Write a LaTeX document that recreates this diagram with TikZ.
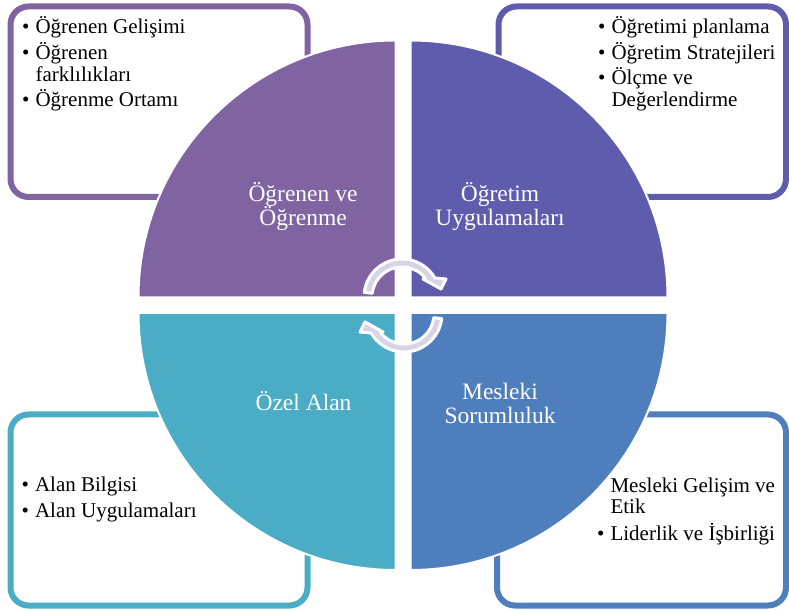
\documentclass[tikz,border=0pt]{standalone}
\usepackage{fontspec}
\setmainfont{Liberation Serif}
\definecolor{learnpurple}{HTML}{8064A2}
\definecolor{teachviolet}{HTML}{5F5BAD}
\definecolor{fieldcyan}{HTML}{4BACC6}
\definecolor{jobblue}{HTML}{4F7EBD}
\definecolor{arrowgray}{HTML}{D7D4E6}
\newcommand{\listdot}{\textbullet\hspace{6pt}}
\newcommand{\listgap}{\hphantom{\textbullet\hspace{6pt}}}
\newcommand{\tightlines}{\lineskiplimit=-50pt\relax}
\tikzset{turnarrow/.pic={
  \filldraw [fill=arrowgray, draw=white, line width=3pt, line join=round]
    (173:38) arc [start angle=173, end angle=30, radius=38] -- (44,18) -- (39,8)
    -- (21,18) -- (39.3:30) arc [start angle=39.3, end angle=173, radius=30] -- cycle ;
}}

\begin{document}
\begin{tikzpicture}[x=1pt,y=1pt,
  itembox/.style={line width=6pt, rounded corners=18pt, fill=white},
  quarter/.style={draw=white, line width=2pt},
  itemtext/.style={anchor=base west, inner sep=0pt, align=left,
    font=\fontsize{21}{22}\selectfont\tightlines},
  quadtext/.style={anchor=base, inner sep=0pt, align=center, text=white,
    font=\fontsize{23.5}{24}\selectfont\tightlines}]

\useasboundingbox (0,0) rectangle (789,610) ;

% corner boxes
\draw [itembox, draw=learnpurple] (10.5,413) rectangle (307.5,603.5) ;
\draw [itembox, draw=teachviolet] (498.5,413) rectangle (786,603.5) ;
\draw [itembox, draw=fieldcyan] (10.5,4.5) rectangle (307.5,195.5) ;
\draw [itembox, draw=jobblue] (497,4.5) rectangle (786,195.5) ;

% quarter discs
\filldraw [quarter, fill=learnpurple] (395.5,312.5) -- ++(-257,0) arc [start angle=180, end angle=90, radius=257] -- cycle ;
\filldraw [quarter, fill=teachviolet] (410.5,312.5) -- ++(0,257) arc [start angle=90, end angle=0, radius=257] -- cycle ;
\filldraw [quarter, fill=fieldcyan] (395.5,297) -- ++(0,-257) arc [start angle=270, end angle=180, radius=257] -- cycle ;
\filldraw [quarter, fill=jobblue] (410.5,297) -- ++(257,0) arc [start angle=0, end angle=-90, radius=257] -- cycle ;

% cycle arrows
\pic at (402,313) {turnarrow} ;
\pic [rotate=180] at (404,296) {turnarrow} ;

% labels (base = last line)
\node (learnlabel) [quadtext] at (303,384) {Öğrenen ve\\Öğrenme} ;
\node (teachlabel) [quadtext] at (500,384) {Öğretim\\Uygulamaları} ;
\node (fieldlabel) [quadtext] at (303.5,199) {Özel Alan} ;
\node (joblabel) [quadtext] at (500,186) {Mesleki\\Sorumluluk} ;

\node (learnlist) [itemtext] at (22,503) {\listdot Öğrenen Gelişimi\\[3.5pt]
  \listdot Öğrenen\\ \listgap farklılıkları\\[3.5pt] \listdot Öğrenme Ortamı} ;
\node (teachlist) [itemtext] at (598,503) {\listdot Öğretimi planlama\\[3.5pt]
  \listdot Öğretim Stratejileri\\[3.5pt] \listdot Ölçme ve\\ \listgap Değerlendirme} ;
\node (fieldlist) [itemtext] at (21.5,92) {\listdot Alan Bilgisi\\[4.5pt]
  \listdot Alan Uygulamaları} ;
\node (joblist) [itemtext] at (597,70) {\listgap Mesleki Gelişim ve\\[-1pt] \listgap Etik\\[4.5pt]
  \listdot Liderlik ve İşbirliği} ;

\end{tikzpicture}
\end{document}
